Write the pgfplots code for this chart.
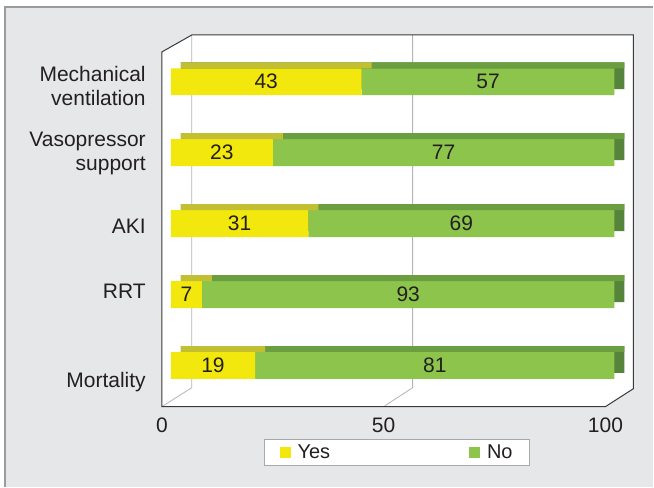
\documentclass[border=0pt]{standalone}
\usepackage{fontspec}
\setmainfont{Liberation Sans}
\usepackage{pgfplots}
\usepackage{pgfplotstable}
\pgfplotsset{compat=1.18}
\definecolor{bggray}{HTML}{E6E7E8}
\definecolor{bordergray}{HTML}{9A9B9D}
\definecolor{gridgray}{HTML}{B4B5B7}
\definecolor{framedark}{HTML}{3A3A3C}
\definecolor{txt}{HTML}{231F20}
\definecolor{yesfront}{HTML}{F2E80E}
\definecolor{yestop}{HTML}{C2BF32}
\definecolor{nofront}{HTML}{8DC44B}
\definecolor{notop}{HTML}{6A9E40}
\definecolor{noside}{HTML}{55843A}
\definecolor{legendgray}{HTML}{A8A9AB}
\newcommand\ffont{\fontsize{21}{24}\selectfont}
\newcommand\lfont{\fontsize{20}{24}\selectfont}
\pgfplotstableread{
pos yes no
4 43 57
3 23 77
2 31 69
1 7 93
0 19 81
}\datatable
\pgfplotsset{
  /pgf/number format/assume math mode=true,
  layer/.style={scale only axis, width=444pt, height=355pt,
    xmin=0, xmax=100, ymin=-0.58, ymax=4.42, anchor=south west, clip=false},
}
\begin{document}
\begin{tikzpicture}[x=1pt,y=1pt]
\fill[white] (0,0) rectangle (654,487);
\fill[bggray] (5,0) rectangle (654,480);
\draw[bordergray, line width=1.2pt] (5,0) -- (5,480) -- (654,480);
\fill[white] (162,80) -- (162,435) -- (192,452) -- (634,452) -- (634,98) -- (606,80) -- cycle;
\draw[gridgray, line width=0.8pt] (192,452) -- (192,99) -- (162,80);
\draw[gridgray, line width=0.8pt] (413,452) -- (413,99) -- (384,80);
\draw[framedark, line width=1pt] (162,80) -- (162,435) -- (192,452) -- (634,452) -- (634,98) -- (606,80) -- cycle;

% side faces
\begin{axis}[layer, at={(181pt,86pt)}, hide axis, xbar stacked, bar width=27pt]
\addplot[fill=noside, draw=none] table[x=yes, y=pos]{\datatable};
\addplot[fill=noside, draw=none] table[x=no, y=pos]{\datatable};
\end{axis}

% front faces, ticks, legend
\begin{axis}[layer, at={(171pt,80pt)}, xbar stacked, bar width=27pt,
  axis line style={draw=none}, major tick length=0pt,
  xtick={0,50,100},
  ytick={-0.23,1.04,1.96,2.99,3.94},
  yticklabels={Mortality,RRT,AKI,{Vasopressor\\support},{Mechanical\\ventilation}},
  xticklabel style={font=\ffont, text=txt, inner sep=0pt, anchor=north, xshift=-9pt, yshift=-11pt},
  yticklabel style={font=\ffont, text=txt, align=right, inner sep=0pt, anchor=east, xshift=-25pt},
  legend columns=2,
  legend style={at={(rel axis cs:0.510,-0.129)}, anchor=center, draw=legendgray, fill=white,
    font=\lfont, text=txt, inner xsep=15pt, inner ysep=3.5pt,
    /tikz/every odd column/.append style={column sep=5pt},
    /tikz/every even column/.append style={column sep=137pt}},
]
\addplot[fill=yesfront, draw=none,
  legend image code/.code={\fill[yesfront] (0pt,-5.5pt) rectangle (11pt,5.5pt);}]
  table[x=yes, y=pos]{\datatable};
\addplot[fill=nofront, draw=none,
  legend image code/.code={\fill[nofront] (0pt,-5.5pt) rectangle (11pt,5.5pt);}]
  table[x=no, y=pos]{\datatable};
\legend{Yes,No}
\end{axis}

% top faces
\begin{axis}[layer, at={(181pt,96.5pt)}, hide axis, xbar stacked, bar width=6pt]
\addplot[fill=yestop, draw=none] table[x=yes, y=pos]{\datatable};
\addplot[fill=notop, draw=none] table[x=no, y=pos]{\datatable};
\end{axis}

% value labels
\begin{axis}[layer, at={(171pt,80pt)}, hide axis]
\addplot[draw=none, mark=none, nodes near coords, point meta=explicit,
  every node near coord/.append style={anchor=center, font=\ffont, text=txt}]
  table[x expr=\thisrow{yes}/2, y=pos, meta=yes]{\datatable};
\addplot[draw=none, mark=none, nodes near coords, point meta=explicit,
  every node near coord/.append style={anchor=center, font=\ffont, text=txt}]
  table[x expr=\thisrow{yes}+\thisrow{no}/2, y=pos, meta=no]{\datatable};
\end{axis}
\end{tikzpicture}
\end{document}
